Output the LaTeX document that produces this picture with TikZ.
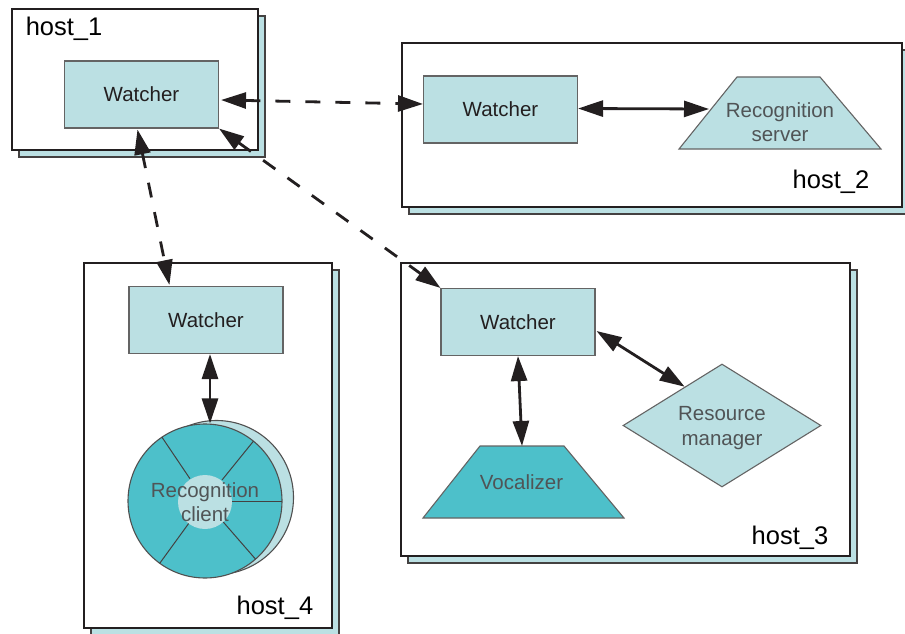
\documentclass[tikz,border=0pt]{standalone}
\usepackage{fontspec}
\setmainfont{Liberation Sans}
\usetikzlibrary{shapes.geometric,arrows.meta,calc,shadows}
\definecolor{tealLight}{RGB}{187,224,227}
\definecolor{tealDark}{RGB}{77,192,202}
\definecolor{edgeGray}{RGB}{100,100,100}
\definecolor{inkDark}{RGB}{35,31,32}
\definecolor{labelGray}{RGB}{80,84,86}

\begin{document}
\begin{tikzpicture}[x=1pt,y=-1pt,
  hostbox/.style={draw=inkDark, line width=2.8pt, fill=white, inner sep=0,
    general shadow={shadow xshift=7pt, shadow yshift=-7pt, fill=tealLight,
      draw=inkDark!85, line width=1.5pt}},
  watcher/.style={draw=edgeGray, line width=1.1pt, fill=tealLight,
    minimum width=154pt, minimum height=67pt, inner sep=0,
    font=\fontsize{20.5}{24.5}\selectfont, text=inkDark},
  part/.style={draw=edgeGray, line width=1.1pt, inner sep=0},
  caption/.style={font=\fontsize{20.5}{24.5}\selectfont, text=labelGray,
    align=center, inner sep=0},
  hostlabel/.style={font=\fontsize{25.5}{30}\selectfont, text=black, inner sep=0},
  link/.style={line width=2.8pt, draw=inkDark,
    {Triangle[length=25pt,width=16pt]}-{Triangle[length=25pt,width=16pt]}},
  remote/.style={link, dash pattern=on 15pt off 15pt}
]
\path[use as bounding box] (0,0) rectangle (905,634);
\clip (0,0) rectangle (905,634);
\fill[white] (0,0) rectangle (905,634);

% hosts
\node[hostbox, minimum width=246pt, minimum height=141pt] (h1) at (135,79.5) {};
\node[hostbox, minimum width=500pt, minimum height=164pt] (h2) at (652,125) {};
\node[hostbox, minimum width=449pt, minimum height=293pt] (h3) at (625.5,409.5) {};
\node[hostbox, minimum width=248pt, minimum height=365pt] (h4) at (208,445.5) {};

\node[hostlabel, anchor=base west] (l1) at ($(h1.north west)+(15,28)$) {host\_1};
\node[hostlabel, anchor=base east] (l2) at ($(h2.south east)+(-34,-20)$) {host\_2};
\node[hostlabel, anchor=base east] (l3) at ($(h3.south east)+(-23,-13)$) {host\_3};
\node[hostlabel, anchor=base east] (l4) at ($(h4.south east)+(-20,-15)$) {host\_4};

% watchers
\node[watcher] (w1) at (141.5,94.5) {Watcher};
\node[watcher] (w2) at (500.5,109.5) {Watcher};
\node[watcher] (w3) at (518,322) {Watcher};
\node[watcher] (w4) at (206,320) {Watcher};

% host_2: recognition server
\draw[part, fill=tealLight] (679,149) -- (737,77) -- (820,77) -- (881,149) -- cycle;
\coordinate (rsin) at (709,109);
\node[caption] (rst) at (780,122) {Recognition\\server};

% host_3: vocalizer and resource manager
\draw[part, fill=tealDark] (423,518) -- (480,446) -- (564,446) -- (624,518) -- cycle;
\coordinate (vzin) at (522,446);
\node[caption] (vzt) at (521.5,482) {Vocalizer};
\node[part, diamond, minimum width=198pt, minimum height=123pt, fill=tealLight] (rm) at (722,425.5) {};
\node[caption] (rmt) at (722,428) {Resource\\manager};

% host_4: recognition client
\node[circle, draw=edgeGray!80!black, line width=1.1pt, fill=tealDark,
  minimum size=154pt, inner sep=0,
  general shadow={shadow xshift=11.5pt, shadow yshift=3.5pt, fill=tealLight,
    draw=edgeGray!80!black, line width=1.1pt, scale=0.987}] (cl) at (205,501) {};
\foreach \a in {-124,-51,0,49,126}
  \draw[line width=1pt, draw=inkDark!85] ($(cl.center)+(\a:27)$) -- ($(cl.center)+(\a:77)$);
\fill[tealLight] (205,502) circle[radius=27pt];
\node[caption] (clt) at (205,502) {Recognition\\client};

% connections between hosts
\draw[remote] ($(w1.east)+(2,5.5)$) -- ($(w2.west)+(0,-5.5)$);
\draw[remote] (w1.south east) -- (w3.north west);
\draw[remote] ($(w1.south)+(-4,1)$) -- ($(w4.north west)+(41,-1)$);

% connections inside hosts
\draw[link] ($(w2.east)+(0,-1)$) -- (rsin);
\draw[link] ($(w4.south)+(4,0)$) -- ($(cl.north)+(5,0)$);
\draw[link] (w3.south) -- (vzin);
\draw[link] ($(w3.east)+(1,9)$) -- ($(rm.north west)!0.25!(rm.north)$);
\end{tikzpicture}
\end{document}
